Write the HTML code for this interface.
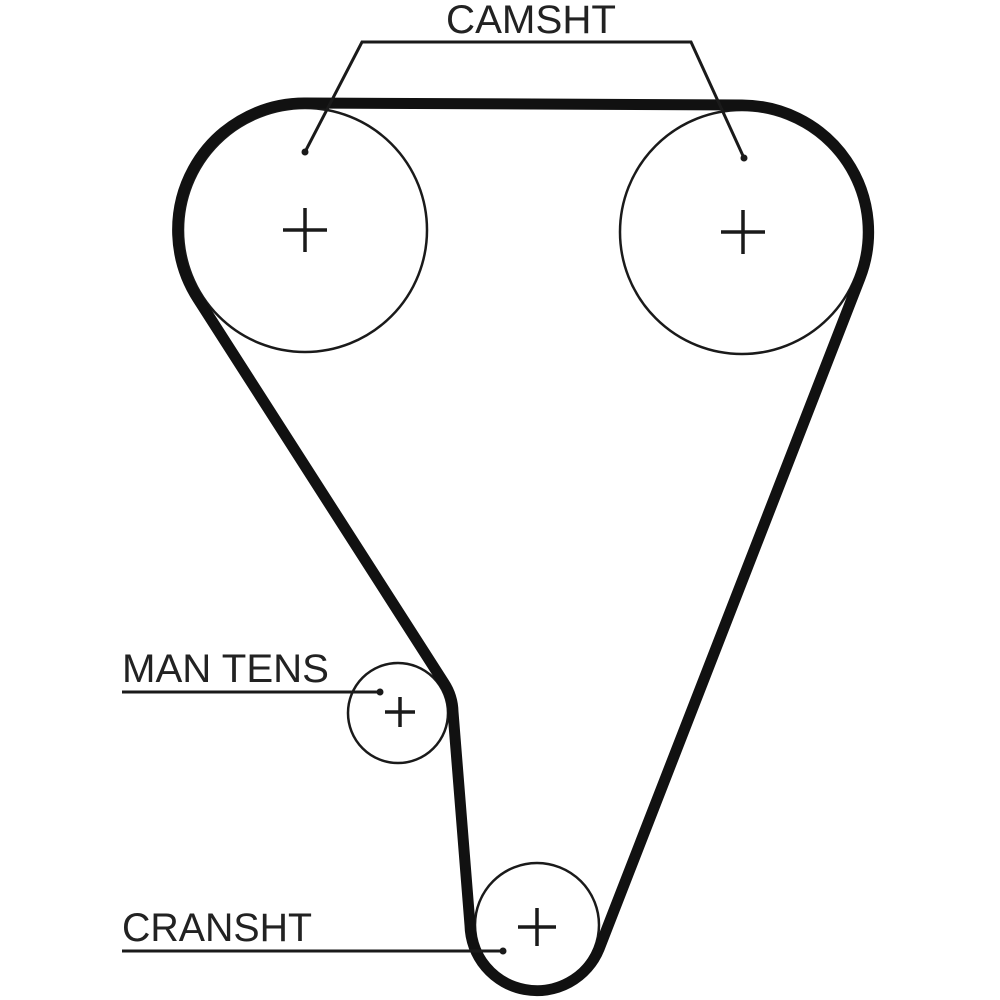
<!DOCTYPE html>
<html><head><meta charset="utf-8"><style>html,body{margin:0;padding:0;background:#fff}svg{display:block}</style></head>
<body>
<svg width="1000" height="1000" viewBox="0 0 1000 1000" xmlns="http://www.w3.org/2000/svg">
<g fill="none" stroke="#1a1a1a">
<circle cx="305" cy="230" r="122" stroke-width="2.5"/>
<circle cx="742" cy="232" r="122" stroke-width="2.5"/>
<circle cx="398" cy="713" r="50" stroke-width="2.5"/>
<circle cx="537" cy="925" r="62" stroke-width="2.5"/>
<path d="M305 103 L742 105 A127 127 0 0 1 860 278 L599 949 A67 67 0 0 1 470 925 L453 712 A55 55 0 0 0 444 683 L198 299 A127 127 0 0 1 305 103 Z" stroke="#111" stroke-width="11" stroke-linejoin="round"/>
<g stroke-width="3.5">
<path d="M283 230H327M305 208V252"/>
<path d="M721 232H765M743 210V254"/>
<path d="M385 712H415M400 697V727"/>
<path d="M518 927H556M537 908V946"/>
</g>
<g stroke-width="3">
<path d="M305 152 L362 42 H691 L744 158"/>
<path d="M122 692 H380"/>
<path d="M122 951 H503"/>
</g>
</g>
<g fill="#1a1a1a">
<circle cx="305" cy="152" r="3.5"/>
<circle cx="744" cy="158" r="3.5"/>
<circle cx="380" cy="692" r="3.5"/>
<circle cx="503" cy="951" r="3.5"/>
</g>
<g font-family="Liberation Sans, sans-serif" font-size="40" fill="#222">
<text x="446" y="33" textLength="170" lengthAdjust="spacingAndGlyphs">CAMSHT</text>
<text x="122" y="682" textLength="207" lengthAdjust="spacingAndGlyphs">MAN TENS</text>
<text x="122" y="941" textLength="190" lengthAdjust="spacingAndGlyphs">CRANSHT</text>
</g>
</svg>
</body></html>
